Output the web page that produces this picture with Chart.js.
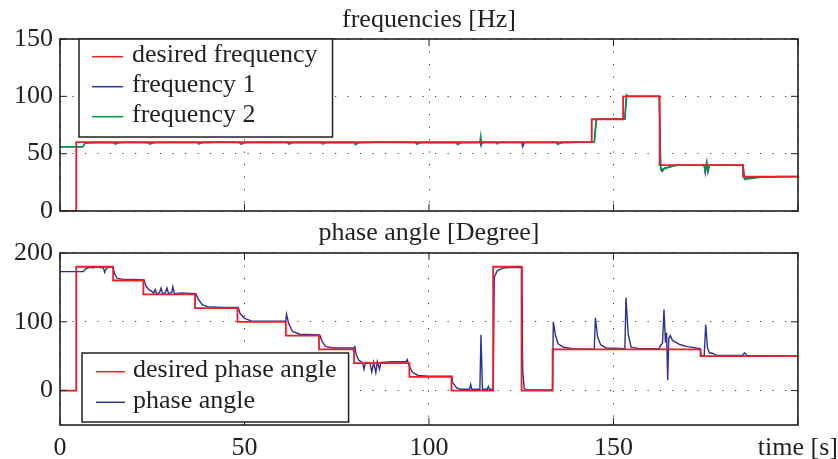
<!DOCTYPE html>
<html>
<head>
<meta charset="utf-8">
<script src="https://cdn.jsdelivr.net/npm/chart.js@4.4.1/dist/chart.umd.min.js"></script>
<style>
  html, body { margin: 0; padding: 0; background: #fff; overflow: hidden; }
  #wrap { position: relative; width: 838px; height: 459px; overflow: hidden; }
  canvas { position: absolute; left: 0; }
  #freqChart { top: 0; }
  #phaseChart { top: 218px; }
</style>
</head>
<body>
<div id="wrap">
  <canvas id="freqChart" width="838" height="231"></canvas>
  <canvas id="phaseChart" width="848" height="241"></canvas>
</div>
<script>
// Données (temps en s)
const xTicks = [0, 50, 100, 150, 200];
const freqTicks = [0, 50, 100, 150];
const phaseTicks = [0, 100, 200];

// fréquence désirée
const desFreqT = [0, 4.4, 4.4, 144.1, 144.1, 152.6, 152.6, 162.5, 162.5, 185.1, 185.1, 200];
const desFreqV = [0, 0, 60, 60, 80, 80, 100, 100, 40, 40, 30, 30];

// fréquence 1
const freq1T = [0, 6.2, 6.8, 10, 14.5, 15, 16, 24, 24.4, 25.5, 37.3, 37.7, 38.6, 49, 49.3, 50, 62, 62.3, 63,
  80, 80.3, 81, 96.5, 96.9, 97.5, 107.6, 107.9, 108.6, 113.9, 114.1, 114.4, 114.8, 125.1, 125.4, 125.8,
  134.6, 135, 136, 144.8, 145.3, 153.1, 153.6, 154, 162.4, 162.8, 163.2, 163.8, 167, 174.6, 174.9, 175.3,
  175.6, 176, 185.1, 185.5, 190, 200];
const freq1V = [56, 56, 59.3, 59.8, 59.6, 58.6, 59.6, 59.7, 58.6, 59.6, 59.8, 58.8, 59.7, 59.8, 58.5, 59.7, 59.8, 58.5, 59.8,
  59.8, 58.5, 59.7, 59.8, 58.6, 59.8, 59.8, 58.3, 59.7, 59.8, 57, 60.5, 59.8, 59.8, 56, 59.6,
  59.8, 58.6, 59.7, 60, 80, 80, 100.5, 100, 100, 38, 34.5, 37.5, 39.8, 40, 33, 42.5,
  34, 40, 40, 28.5, 29.6, 30];

// fréquence 2
const freq2T = [0, 6.2, 6.8, 10, 14.5, 15, 16, 20, 23.8, 24.3, 25.3, 30, 37.2, 37.6, 38.6, 44, 48.6, 49, 50, 55,
  61.6, 62, 63, 70.8, 71.2, 72.2, 79.6, 80, 81, 88, 96.3, 96.7, 97.7, 107.3, 107.7, 108.7, 113.8, 114, 114.3,
  114.8, 118.2, 118.5, 119.2, 125.2, 125.5, 126.3, 134.5, 134.8, 136, 140, 144.8, 145.4, 153, 153.5, 154,
  162.4, 162.8, 164, 167, 174.5, 174.8, 175.2, 175.6, 176, 185.1, 185.5, 190, 195, 200];
const freq2V = [56, 56, 59.3, 59.8, 59.5, 58.2, 59.5, 60, 59.6, 58.3, 59.5, 60, 59.8, 58.3, 59.6, 60.2, 59.8, 58.3, 59.6, 60,
  59.8, 58.3, 59.6, 59.8, 58.3, 59.6, 59.8, 57.8, 59.5, 60.1, 59.8, 58.2, 59.6, 59.8, 58, 59.5, 59.8, 65.5, 58.5,
  60, 59.8, 58.5, 59.8, 59.8, 58.5, 59.8, 59.8, 58.2, 59.5, 60, 60, 80, 80, 101.5, 100,
  100, 36, 37, 39.8, 40, 35, 42, 36, 40, 40, 27.6, 29.5, 30, 30];

// angle de phase désiré
const desPhaseT = [0, 4.4, 4.4, 14.4, 14.4, 22.6, 22.6, 36.6, 36.6, 48.1, 48.1, 61.2, 61.2, 70.2, 70.2, 79.7,
  79.7, 94.7, 94.7, 106.1, 106.1, 117.4, 117.4, 125.1, 125.1, 133.5, 133.5, 173.6, 173.6, 200];
const desPhaseV = [0, 0, 180, 180, 160, 160, 140, 140, 120, 120, 100, 100, 80, 80, 60, 60,
  40, 40, 20, 20, 0, 0, 180, 180, 0, 0, 60, 60, 50, 50];

// angle de phase mesuré
const phaseT = [0, 6.3, 7, 8, 9, 10, 11, 11.8, 12.1, 12.5, 13, 14.3, 14.8, 15.5, 17, 20, 22.8, 23.2, 24, 25,
  25.4, 25.8, 26.3, 27, 27.4, 27.8, 28.5, 29, 29.4, 30.3, 30.6, 31, 33, 36.8, 37.5, 38.5, 40, 44, 48.3,
  48.8, 50, 52, 61.2, 61.4, 62, 63, 65, 70.4, 71, 72, 74, 79.6, 79.9, 80.3, 81, 82, 82.4, 82.8, 84,
  84.5, 85, 85.6, 86, 86.6, 87, 90, 93.8, 94.1, 94.6, 95.5, 97, 100, 106.2, 106.4, 107.5, 108.5, 111,
  111.3, 111.6, 113.8, 114.1, 114.5, 115.8, 116.1, 116.4, 117.4, 117.7, 118.5, 120, 122, 125.2, 125.4,
  125.8, 126.5, 133.5, 133.7, 134.3, 135, 136.5, 139, 144.8, 145.1, 145.7, 146.5, 148, 153.1, 153.4,
  154, 154.8, 157, 162.4, 162.8, 163.3, 163.7, 164.1, 164.4, 164.7, 165, 165.4, 166, 168, 170, 173.5,
  173.8, 174.6, 175, 175.5, 176, 177, 178, 185, 185.5, 186.2, 200];
const phaseV = [173, 173, 177, 179, 178.5, 180, 179, 178, 172, 177, 179, 180, 170, 163, 162, 161.5, 161, 153, 147, 144,
  141, 147, 140, 143, 149, 141, 142, 149, 141, 143, 151, 141, 142, 141, 133, 125, 122, 121, 121,
  112, 105, 101, 101, 111, 97, 86, 82, 81, 72, 64, 62, 62, 64, 52, 44, 41, 31, 41, 40,
  27, 41, 26, 42, 31, 41, 42, 42, 45, 36, 27, 22, 21, 21, 12, 4, 2, 2,
  9, 2, 2, 81, 2, 2, 6, 2, 2, 165, 174, 178, 179, 179, 30,
  3, 1, 1, 100, 80, 68, 63, 61, 60, 106, 78, 67, 62, 61, 135,
  82, 63, 61, 61, 66, 69, 118, 70, 84, 15, 76, 80, 73, 67, 64, 61,
  51, 50, 96, 62, 55, 54, 51, 51, 55, 51, 50];

const serif = "'Liberation Serif', 'Times New Roman', serif";
const ink = '#231f20';
const red = '#ee1c25';
const blue = '#2e3192';
const green = '#00994c';

function pts(t, v) {
  return t.map((x, i) => ({ x: x, y: v[i] }));
}

// Cadre, petites graduations intérieures et légende encadrée
const framePlugin = {
  id: 'frame',
  afterDatasetsDraw(chart, args, opts) {
    const ctx = chart.ctx;
    const a = chart.chartArea;
    const sx = chart.scales.x, sy = chart.scales.y;
    ctx.save();
    ctx.strokeStyle = ink;
    ctx.lineWidth = 1;
    ctx.beginPath();
    sx.ticks.forEach(t => {
      const px = sx.getPixelForValue(t.value);
      ctx.moveTo(px, a.bottom); ctx.lineTo(px, a.bottom - 7);
      ctx.moveTo(px, a.top); ctx.lineTo(px, a.top + 7);
    });
    sy.ticks.forEach(t => {
      const py = sy.getPixelForValue(t.value);
      ctx.moveTo(a.left, py); ctx.lineTo(a.left + 7, py);
      ctx.moveTo(a.right, py); ctx.lineTo(a.right - 7, py);
    });
    ctx.stroke();
    ctx.lineWidth = 1.6;
    ctx.strokeRect(a.left, a.top, a.right - a.left, a.bottom - a.top);

    // légende
    const lg = opts.legend;
    const sets = chart.data.datasets;
    ctx.font = '26px ' + serif;
    let maxW = 0;
    sets.forEach(d => { maxW = Math.max(maxW, ctx.measureText(d.label).width); });
    const w = lg.textX + maxW + lg.padRight;
    const h = lg.padTop + (sets.length - 1) * lg.rowGap + lg.padBottom;
    const left = a.left + lg.left;
    const top = lg.top !== undefined ? a.top + lg.top : a.bottom - lg.bottom - h;
    ctx.fillStyle = '#fff';
    ctx.fillRect(left, top, w, h);
    ctx.lineWidth = 1.5;
    ctx.strokeStyle = ink;
    ctx.strokeRect(left, top, w, h);
    sets.forEach((d, i) => {
      const y = top + lg.padTop + i * lg.rowGap;
      ctx.strokeStyle = d.borderColor;
      ctx.lineWidth = 1.5;
      ctx.beginPath();
      ctx.moveTo(left + lg.lineX0, y);
      ctx.lineTo(left + lg.lineX1, y);
      ctx.stroke();
      ctx.fillStyle = ink;
      ctx.textBaseline = 'middle';
      ctx.textAlign = 'left';
      ctx.fillText(d.label, left + lg.textX, y - 1.5);
    });
    ctx.restore();
  }
};

function makeOptions(cfg) {
  return {
    responsive: false,
    animation: false,
    devicePixelRatio: 1,
    layout: { padding: { left: 0, right: 40, top: 0, bottom: 0 } },
    elements: { point: { radius: 0 }, line: { tension: 0 } },
    plugins: {
      legend: { display: false },
      tooltip: { enabled: false },
      title: {
        display: true,
        text: cfg.title,
        fullSize: false,
        color: ink,
        font: { family: serif, size: 26, weight: 'normal', lineHeight: 1.2 },
        padding: cfg.titlePad
      },
      frame: { legend: cfg.legend }
    },
    scales: {
      x: {
        type: 'linear',
        min: 0, max: 200,
        afterBuildTicks: s => { s.ticks = xTicks.map(v => ({ value: v })); },
        afterFit: s => { s.height = cfg.xHeight; },
        grid: { color: '#333', lineWidth: 1, drawTicks: false },
        border: { display: false, dash: [1.2, 11.3] },
        ticks: {
          display: cfg.xLabels,
          color: ink,
          padding: 10,
          maxRotation: 0,
          autoSkip: false,
          font: { family: serif, size: 26, lineHeight: 1 },
          callback: v => (v === 200 ? 'time [s]' : v)
        }
      },
      y: {
        min: cfg.yMin, max: cfg.yMax,
        afterBuildTicks: s => { s.ticks = cfg.yTicks.map(v => ({ value: v })); },
        afterFit: s => { s.width = 60; },
        grid: { color: '#333', lineWidth: 1, drawTicks: false },
        border: { display: false, dash: [1.2, 11.3] },
        ticks: {
          color: ink,
          padding: 7,
          font: { family: serif, size: 26, lineHeight: 1 }
        }
      }
    }
  };
}

new Chart(document.getElementById('freqChart'), {
  type: 'line',
  data: {
    datasets: [
      { label: 'desired frequency', data: pts(desFreqT, desFreqV), borderColor: red, borderWidth: 1.8, order: 0 },
      { label: 'frequency 1', data: pts(freq1T, freq1V), borderColor: blue, borderWidth: 1.4, order: 2 },
      { label: 'frequency 2', data: pts(freq2T, freq2V), borderColor: green, borderWidth: 1.5, order: 1 }
    ]
  },
  options: makeOptions({
    title: 'frequencies [Hz]',
    titlePad: { top: 4.5, bottom: 3.3 },
    xHeight: 14,
    xLabels: false,
    yMin: 0, yMax: 150,
    yTicks: freqTicks,
    legend: { left: 19, top: 0, padTop: 17.7, rowGap: 30, padBottom: 20.3, lineX0: 13, lineX1: 44, textX: 53, padRight: 15 }
  }),
  plugins: [framePlugin]
});

new Chart(document.getElementById('phaseChart'), {
  type: 'line',
  data: {
    datasets: [
      { label: 'desired phase angle', data: pts(desPhaseT, desPhaseV), borderColor: red, borderWidth: 1.8, order: 0 },
      { label: 'phase angle', data: pts(phaseT, phaseV), borderColor: blue, borderWidth: 1.4, order: 1 }
    ]
  },
  options: makeOptions({
    title: 'phase angle [Degree]',
    titlePad: { top: 0, bottom: 3.8 },
    xHeight: 34,
    xLabels: true,
    yMin: -50, yMax: 200,
    yTicks: phaseTicks,
    legend: { left: 22, bottom: 3, padTop: 18.7, rowGap: 30.6, padBottom: 19.7, lineX0: 14, lineX1: 43, textX: 51, padRight: 12 }
  }),
  plugins: [framePlugin]
});
</script>
</body>
</html>
